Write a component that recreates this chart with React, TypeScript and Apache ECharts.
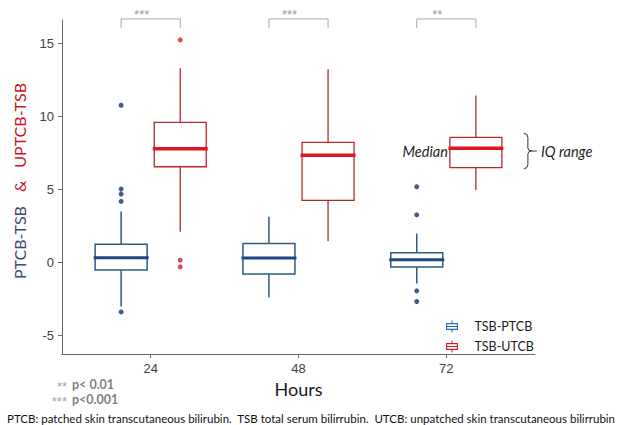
import React, { useEffect, useRef } from "react";
import * as echarts from "echarts";

// ---- data ----
const hours = ["24", "48", "72"];
const hourPos = [1, 2, 3];
// [min, Q1, median, Q3, max]
const ptcbBox = [
  [-3.0, -0.51, 0.33, 1.25, 3.5],
  [-2.39, -0.77, 0.31, 1.31, 3.14],
  [-1.43, -0.29, 0.19, 0.67, 2.0],
];
const utcbBox = [
  [2.11, 6.56, 7.8, 9.6, 13.3],
  [1.47, 4.26, 7.34, 8.23, 13.23],
  [4.97, 6.5, 7.82, 8.57, 11.43],
];
// [hour index, value]
const ptcbOutliers = [
  [0, 10.77], [0, 5.03], [0, 4.69], [0, 4.19], [0, -3.37],
  [2, 5.19], [2, 3.27], [2, -1.93], [2, -2.66],
];
const utcbOutliers = [[0, 15.24], [0, 0.17], [0, -0.29]];
const significance = ["***", "***", "**"];
const yTicks = [-5, 0, 5, 10, 15];
const seriesNames = ["TSB-PTCB", "TSB-UTCB"];

const OFFSET = 0.2;
const BOX_W = 52;
const BLUE = "#2c5a85";
const BLUE_MED = "#1d4682";
const BLUE_DOT = "#12356a";
const RED = "#b8282c";
const RED_MED = "#e2161f";
const RED_DOT = "#d21f27";
const LEGEND_ICON =
  "path://M6.4,0H7.6V3H6.4Z M0,3H14V4.3H0Z M0,9.7H14V11H0Z M0,3H1.3V11H0Z M12.7,3H14V11H12.7Z M0,6.3H14V7.7H0Z M6.4,11H7.6V14H6.4Z";

export default function App() {
  const ref = useRef<HTMLDivElement>(null);
  useEffect(() => {
    if (!ref.current) return;
    const chart = echarts.init(ref.current, null, { renderer: "svg" });

    const boxData = (arr: number[][], sign: number) =>
      arr.map((b, i) => [hourPos[i] + sign * OFFSET, ...b]);
    const outData = (arr: number[][], sign: number) =>
      arr.map((o) => [hourPos[o[0]] + sign * OFFSET, o[1]]);

    const boxRender = (stroke: string, medColor: string, medWidth: number, lw: number) => (params: any, api: any) => {
      const x = api.value(0);
      const pMin = api.coord([x, api.value(1)]);
      const pQ1 = api.coord([x, api.value(2)]);
      const pMed = api.coord([x, api.value(3)]);
      const pQ3 = api.coord([x, api.value(4)]);
      const pMax = api.coord([x, api.value(5)]);
      const cx = pMin[0];
      const h = BOX_W / 2;
      const ls = { stroke, lineWidth: lw };
      return {
        type: "group",
        children: [
          { type: "line", shape: { x1: cx, y1: pMax[1], x2: cx, y2: pQ3[1] }, style: ls },
          { type: "line", shape: { x1: cx, y1: pQ1[1], x2: cx, y2: pMin[1] }, style: ls },
          {
            type: "rect",
            shape: { x: cx - h, y: pQ3[1], width: 2 * h, height: pQ1[1] - pQ3[1] },
            style: { stroke, lineWidth: lw, fill: "none" },
          },
          {
            type: "line",
            shape: { x1: cx - h - 1.5, y1: pMed[1], x2: cx + h + 1.5, y2: pMed[1] },
            style: { stroke: medColor, lineWidth: medWidth },
          },
        ],
      };
    };

    const axisFont = { fontFamily: "Liberation Sans, Arial", fontSize: 13, color: "#404040" };

    chart.setOption({
      animation: false,
      backgroundColor: "#ffffff",
      grid: { left: 62, right: 82, top: 20, bottom: 71 },
      legend: {
        orient: "vertical",
        left: 441,
        top: 315,
        itemWidth: 13,
        itemHeight: 12,
        itemGap: 7,
        icon: LEGEND_ICON,
        textStyle: { fontFamily: "Lato", fontSize: 12.5, color: "#1a1a1a", padding: [0, 0, 0, 11] },
        data: [
          { name: seriesNames[0], itemStyle: { color: "#2e6aa8", borderWidth: 0 } },
          { name: seriesNames[1], itemStyle: { color: "#cf2128", borderWidth: 0 } },
        ],
      },
      xAxis: {
        type: "value",
        min: 0.4,
        max: 3.6,
        name: "Hours",
        nameLocation: "middle",
        nameGap: 24,
        nameTextStyle: { fontFamily: "Lato", fontSize: 18, color: "#1a1a1a" },
        splitLine: { show: false },
        axisLine: { show: true, onZero: false, lineStyle: { color: "#6a6a6a", width: 1 } },
        axisTick: { show: true, customValues: hourPos, length: 4, lineStyle: { color: "#6a6a6a" } },
        axisLabel: {
          customValues: hourPos,
          margin: 8,
          formatter: (v: number) => hours[Math.round(v) - 1] ?? "",
          ...axisFont,
        },
      },
      yAxis: {
        type: "value",
        min: -6.25,
        max: 16.6,
        name: "{a|PTCB-TSB}{c|&}{b|UPTCB-TSB}",
        nameLocation: "middle",
        nameGap: 35,
        nameRotate: 90,
        nameMoveOverlap: false,
        nameTextStyle: {
          padding: [0, 0, 0, 12],
          rich: {
            a: { fontFamily: "Lato", fontSize: 16, color: "#3f4a6c" },
            c: { fontFamily: "Lato", fontSize: 16, color: "#c8141f", padding: [0, 13, 0, 14] },
            b: { fontFamily: "Lato", fontSize: 16, color: "#c8141f" },
          },
        },
        splitLine: { show: false },
        axisLine: { show: true, onZero: false, lineStyle: { color: "#6a6a6a", width: 1 } },
        axisTick: { show: true, customValues: yTicks, length: 4, lineStyle: { color: "#6a6a6a" } },
        axisLabel: { customValues: yTicks, margin: 8, ...axisFont },
      },
      series: [
        {
          name: seriesNames[0],
          type: "custom",
          renderItem: boxRender(BLUE, BLUE_MED, 3, 1.5),
          encode: { x: 0, y: [1, 2, 3, 4, 5] },
          data: boxData(ptcbBox, -1),
          z: 2,
        },
        {
          name: seriesNames[1],
          type: "custom",
          renderItem: boxRender(RED, RED_MED, 3.5, 1.3),
          encode: { x: 0, y: [1, 2, 3, 4, 5] },
          data: boxData(utcbBox, 1),
          z: 2,
        },
        {
          name: "ptcb-outliers",
          type: "scatter",
          symbolSize: 5,
          itemStyle: { color: BLUE_DOT },
          data: outData(ptcbOutliers, -1),
          z: 4,
        },
        {
          name: "utcb-outliers",
          type: "scatter",
          symbolSize: 5,
          itemStyle: { color: RED_DOT },
          data: outData(utcbOutliers, 1),
          z: 4,
        },
        {
          name: "significance",
          type: "custom",
          clip: false,
          data: hourPos.map((p, i) => [p, i]),
          renderItem: (params: any, api: any) => {
            const x = api.value(0);
            const idx = api.value(1);
            const xl = api.coord([x - OFFSET, 0])[0];
            const xr = api.coord([x + OFFSET, 0])[0];
            const top = params.coordSys.y - 1;
            return {
              type: "group",
              children: [
                {
                  type: "polyline",
                  shape: { points: [[xl, top + 9], [xl, top], [xr, top], [xr, top + 9]] },
                  style: { stroke: "#a6a6a6", lineWidth: 1, fill: "none" },
                },
                {
                  type: "text",
                  style: {
                    text: significance[idx],
                    x: (xl + xr) / 2 - 9,
                    y: top - 5,
                    align: "center",
                    verticalAlign: "middle",
                    fontSize: 13,
                    fontFamily: "Liberation Sans, Arial",
                    fill: "#9a9a9a",
                  },
                },
              ],
            };
          },
          z: 5,
        },
        {
          name: "annotation",
          type: "custom",
          clip: false,
          data: [[hourPos[2] + OFFSET, utcbBox[2][1], utcbBox[2][2], utcbBox[2][3]]],
          renderItem: (params: any, api: any) => {
            const x = api.value(0);
            const pQ1 = api.coord([x, api.value(1)]);
            const pMed = api.coord([x, api.value(2)]);
            const pQ3 = api.coord([x, api.value(3)]);
            const left = pMed[0] - BOX_W / 2;
            const right = pMed[0] + BOX_W / 2;
            const bx = right + 22;
            const t = pQ3[1] - 4;
            const b = pQ1[1] + 1;
            const m = (t + b) / 2;
            const d =
              `M${bx},${t} Q${bx + 4},${t} ${bx + 4},${t + 4} L${bx + 4},${m - 3} ` +
              `Q${bx + 4},${m} ${bx + 8},${m} Q${bx + 4},${m} ${bx + 4},${m + 3} ` +
              `L${bx + 4},${b - 4} Q${bx + 4},${b} ${bx},${b} M${bx + 8},${m} L${bx + 13},${m}`;
            return {
              type: "group",
              children: [
                {
                  type: "text",
                  style: {
                    text: "Median",
                    x: left - 2,
                    y: pMed[1] + 3,
                    align: "right",
                    verticalAlign: "middle",
                    fontSize: 14.5,
                    fontStyle: "italic",
                    fontFamily: "Lato",
                    fill: "#1f1f1f",
                  },
                },
                {
                  type: "path",
                  shape: { pathData: d },
                  style: { stroke: "#333", lineWidth: 1, fill: "none" },
                },
                {
                  type: "text",
                  style: {
                    text: "IQ range",
                    x: bx + 17,
                    y: m,
                    align: "left",
                    verticalAlign: "middle",
                    fontSize: 14.5,
                    fontStyle: "italic",
                    fontFamily: "Lato",
                    fill: "#1f1f1f",
                  },
                },
              ],
            };
          },
          z: 5,
        },
      ],
      graphic: [
        {
          type: "text",
          x: 67,
          y: 386,
          style: { text: "**", fontSize: 13, fontFamily: "Liberation Sans, Arial", fill: "#a0a0a0", align: "right", verticalAlign: "middle" },
        },
        {
          type: "text",
          x: 72,
          y: 384,
          style: { text: "p< 0.01", fontSize: 12.5, fontWeight: "bold", fontFamily: "Lato", fill: "#808080", verticalAlign: "middle" },
        },
        {
          type: "text",
          x: 67,
          y: 401,
          style: { text: "***", fontSize: 13, fontFamily: "Liberation Sans, Arial", fill: "#a0a0a0", align: "right", verticalAlign: "middle" },
        },
        {
          type: "text",
          x: 72,
          y: 399,
          style: { text: "p<0.001", fontSize: 12.5, fontWeight: "bold", fontFamily: "Lato", fill: "#808080", verticalAlign: "middle" },
        },
        {
          type: "text",
          x: 7,
          y: 418,
          style: {
            text: "PTCB: patched skin transcutaneous bilirubin.  TSB total serum bilirrubin.  UTCB: unpatched skin transcutaneous bilirrubin",
            fontSize: 11.5,
            fontFamily: "Lato",
            fill: "#111",
            verticalAlign: "middle",
          },
        },
      ],
    });
    return () => chart.dispose();
  }, []);
  return (
    <div
      ref={ref}
      style={{ position: "fixed", left: 0, top: 0, width: 617, height: 425, background: "#fff" }}
    />
  );
}
